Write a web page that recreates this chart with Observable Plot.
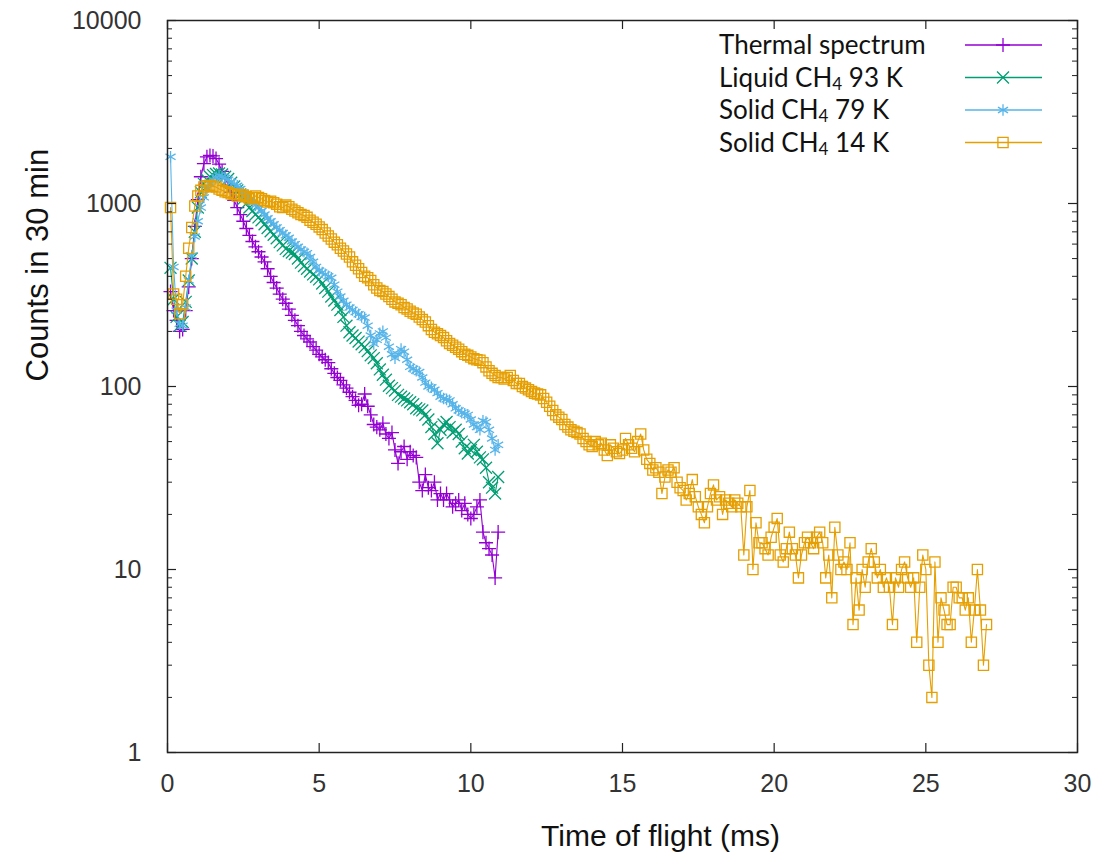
<!DOCTYPE html>
<html><head><meta charset="utf-8">
<script src="https://cdn.jsdelivr.net/npm/d3@7"></script>
<script src="https://cdn.jsdelivr.net/npm/@observablehq/plot@0.6"></script>
<style>
body{margin:0;background:#fff;}
#chart{width:1120px;height:863px;}
</style></head><body><div id="chart"></div>
<script>
// Time of flight bins (ms)
const tof = [
0.1,0.2,0.3,0.4,0.5,0.6,0.7,0.8,0.9,1.0,
1.1,1.2,1.3,1.4,1.5,1.6,1.7,1.8,1.9,2.0,
2.1,2.2,2.3,2.4,2.5,2.6,2.7,2.8,2.9,3.0,
3.1,3.2,3.3,3.4,3.5,3.6,3.7,3.8,3.9,4.0,
4.1,4.2,4.3,4.4,4.5,4.6,4.7,4.8,4.9,5.0,
5.1,5.2,5.3,5.4,5.5,5.6,5.7,5.8,5.9,6.0,
6.1,6.2,6.3,6.4,6.5,6.6,6.7,6.8,6.9,7.0,
7.1,7.2,7.3,7.4,7.5,7.6,7.7,7.8,7.9,8.0,
8.1,8.2,8.3,8.4,8.5,8.6,8.7,8.8,8.9,9.0,
9.1,9.2,9.3,9.4,9.5,9.6,9.7,9.8,9.9,10.0,
10.1,10.2,10.3,10.4,10.5,10.6,10.7,10.8,10.9,11.0,
11.1,11.2,11.3,11.4,11.5,11.6,11.7,11.8,11.9,12.0,
12.1,12.2,12.3,12.4,12.5,12.6,12.7,12.8,12.9,13.0,
13.1,13.2,13.3,13.4,13.5,13.6,13.7,13.8,13.9,14.0,
14.1,14.2,14.3,14.4,14.5,14.6,14.7,14.8,14.9,15.0,
15.1,15.2,15.3,15.4,15.5,15.6,15.7,15.8,15.9,16.0,
16.1,16.2,16.3,16.4,16.5,16.6,16.7,16.8,16.9,17.0,
17.1,17.2,17.3,17.4,17.5,17.6,17.7,17.8,17.9,18.0,
18.1,18.2,18.3,18.4,18.5,18.6,18.7,18.8,18.9,19.0,
19.1,19.2,19.3,19.4,19.5,19.6,19.7,19.8,19.9,20.0,
20.1,20.2,20.3,20.4,20.5,20.6,20.7,20.8,20.9,21.0,
21.1,21.2,21.3,21.4,21.5,21.6,21.7,21.8,21.9,22.0,
22.1,22.2,22.3,22.4,22.5,22.6,22.7,22.8,22.9,23.0,
23.1,23.2,23.3,23.4,23.5,23.6,23.7,23.8,23.9,24.0,
24.1,24.2,24.3,24.4,24.5,24.6,24.7,24.8,24.9,25.0,
25.1,25.2,25.3,25.4,25.5,25.6,25.7,25.8,25.9,26.0,
26.1,26.2,26.3,26.4,26.5,26.6,26.7,26.8,26.9,27.0
];

// Counts in 30 min
const thermal = [
330,260,230,200,205,260,350,500,750,1050,
1400,1650,1800,1830,1820,1760,1640,1500,1380,1260,
1150,1040,950,870,800,730,670,620,580,545,
510,480,440,400,370,345,320,300,285,265,
245,230,215,200,190,182,175,165,158,150,
145,140,135,125,118,112,108,102,98,93,
88,84,79,80,91,78,70,62,60,58,
63,55,52,56,45,38,44,47,40,44,
42,41,30,27,33,28,27,30,24,26,
24,26,24,22,23,24,21,23,20,19,
20,22,24,16,14,13,12,9,16
];
const liquid93 = [
445,300,240,215,225,290,380,500,700,950,
1150,1280,1350,1400,1430,1450,1460,1440,1400,1360,
1300,1240,1180,1120,1060,1000,950,910,870,840,
810,770,735,705,675,645,615,590,565,550,
540,530,500,475,455,440,425,410,398,385,
365,345,330,310,295,280,262,240,215,198,
190,184,176,170,164,156,148,143,134,124,
116,109,101,98,95,90,88,86,84,82,
80,76,75,74,70,66,60,55,49,58,
62,64,60,56,58,55,50,46,43,45,
48,44,41,40,36,30,28,26,32
];
const solid79 = [
1800,450,260,220,215,270,380,520,660,800,
950,1080,1200,1280,1350,1390,1420,1400,1380,1350,
1310,1280,1250,1200,1150,1100,1050,1010,980,950,
910,870,830,800,770,740,715,690,670,650,
620,600,580,560,545,535,510,480,450,430,
420,410,400,393,360,330,310,294,280,270,
262,255,248,240,238,215,190,171,180,195,
200,185,165,150,143,150,160,155,140,128,
125,122,120,112,105,100,99,96,92,88,
86,85,84,80,76,74,72,71,70,66,
62,60,58,65,64,58,52,45,48
];
const solid14 = [
950,320,300,250,280,400,570,740,970,1100,
1180,1230,1250,1260,1240,1230,1200,1180,1160,1150,
1130,1120,1100,1120,1110,1090,1060,1080,1100,1080,
1060,1040,1020,1030,1010,990,960,950,980,960,
930,910,890,870,860,840,810,790,770,745,
720,690,665,640,615,595,570,550,530,510,
480,460,440,420,400,393,380,360,345,335,
330,320,310,300,290,285,280,270,265,258,
252,248,240,232,225,215,205,198,194,190,
185,178,172,168,164,160,155,150,148,145,
142,140,139,135,128,122,118,115,112,112,
110,112,115,108,104,104,100,98,96,94,
92,91,90,86,82,78,74,70,68,66,
62,60,58,57,56,55,52,50,48,47,
50,48,49,45,42,48,46,44,43,45,
52,48,46,44,50,55,45,40,38,35,
36,34,26,32,35,34,36,30,28,27,
24,26,31,25,22,20,18,22,26,29,
24,25,20,24,23,22,24,23,22,12,
22,27,10,18,14,14,13,12,15,17,
19,12,11,13,16,13,12,9,12,14,
15,14,13,15,16,14,9,12,7,17,
12,10,11,10,14,5,9,6,10,8,
11,13,11,9,10,8,9,8,5,9,
8,10,11,9,8,9,4,8,12,10,
3,2,11,4,7,6,5,5,8,8,
7,7,6,7,4,6,10,6,3,5
];

const seriesNames = ["Thermal spectrum", "Liquid CH₄ 93 K", "Solid CH₄ 79 K", "Solid CH₄ 14 K"];
const seriesValues = [thermal, liquid93, solid79, solid14];
const seriesColors = ["#9400d3", "#009e73", "#56b4e9", "#e69f00"];
const seriesSymbols = ["plus", "times", "asterisk", "square2"];
const symbolR = [4.6, 5.5, 5.5, 6.5];
const d3Symbols = {plus: d3.symbolPlus, times: d3.symbolTimes, asterisk: d3.symbolAsterisk, square2: d3.symbolSquare2};

const xTicks = [0, 5, 10, 15, 20, 25, 30];
const yTicks = [1, 10, 100, 1000, 10000];
const yMinorTicks = [2,3,4,5,6,7,8,9, 20,30,40,50,60,70,80,90, 200,300,400,500,600,700,800,900, 2000,3000,4000,5000,6000,7000,8000,9000];

const W = 1120, H = 863;
const mL = 167, mR = 43, mT = 20, mB = 111;
const innerW = W - mL - mR, innerH = H - mT - mB;

const datasets = seriesValues.map((vals, k) => vals.map((v, i) => ({t: tof[i], count: v, series: seriesNames[k]})));

const marks = [];
datasets.forEach((rows, k) => {
  marks.push(Plot.line(rows, {x: "t", y: "count", stroke: seriesColors[k], strokeWidth: 1.1}));
  marks.push(Plot.dot(rows, {x: "t", y: "count", symbol: seriesSymbols[k], r: symbolR[k], stroke: seriesColors[k], fill: "none", strokeWidth: 1.3}));
});

const tickColor = "#222";
marks.push(
  Plot.frame({stroke: tickColor, strokeWidth: 1.5}),
  Plot.tickX(xTicks, {x: d => d, insetTop: innerH - 9, stroke: tickColor, strokeWidth: 1.2}),
  Plot.tickX(xTicks, {x: d => d, insetBottom: innerH - 9, stroke: tickColor, strokeWidth: 1.2}),
  Plot.tickY(yTicks, {y: d => d, insetRight: innerW - 9, stroke: tickColor, strokeWidth: 1.2}),
  Plot.tickY(yTicks, {y: d => d, insetLeft: innerW - 9, stroke: tickColor, strokeWidth: 1.2}),
  Plot.tickY(yMinorTicks, {y: d => d, insetRight: innerW - 5, stroke: tickColor, strokeWidth: 1}),
  Plot.tickY(yMinorTicks, {y: d => d, insetLeft: innerW - 5, stroke: tickColor, strokeWidth: 1}),
  Plot.axisX({ticks: xTicks, tickSize: 0, tickPadding: 22, fontSize: 25, fill: "#333", label: null}),
  Plot.axisY({ticks: yTicks, tickSize: 0, tickPadding: 26, fontSize: 25, fill: "#333", tickFormat: d => String(d), label: null}),
  Plot.text(["Counts in 30 min"], {text: d => d, frameAnchor: "left", rotate: -90, dx: -129, dy: -5, fontSize: 31, fill: "#111"}),
  Plot.text(["Time of flight (ms)"], {text: d => d, frameAnchor: "bottom", dx: 38, dy: 93, fontSize: 30, fill: "#111"})
);

const chart = Plot.plot({
  width: W, height: H,
  marginLeft: mL, marginRight: mR, marginTop: mT, marginBottom: mB,
  style: {fontFamily: "'Liberation Sans', Arial, sans-serif", background: "#fff", overflow: "visible"},
  x: {domain: [0, 30]},
  y: {type: "log", domain: [1, 10000]},
  marks
});
document.getElementById("chart").appendChild(chart);

// Key inside the frame, top right
const frameRight = W - mR;
const rowCenters = [45, 77.5, 110, 142.5];
const key = d3.select(chart).append("g")
  .attr("font-family", "Lato, 'Open Sans', sans-serif").attr("font-size", 26)
  .attr("fill", "#111").attr("text-anchor", "start");
seriesNames.forEach((name, k) => {
  const cy = rowCenters[k];
  const txt = key.append("text").attr("x", frameRight - 358).attr("y", cy + 9).attr("text-anchor", "start");
  const parts = name.split("₄");
  if (parts.length === 2) {
    txt.append("tspan").text(parts[0]);
    txt.append("tspan").attr("dy", 3).attr("font-size", 17).text("4");
    txt.append("tspan").attr("dy", -3).text(parts[1]);
  } else {
    txt.text(name);
  }
  key.append("line").attr("x1", frameRight - 112).attr("x2", frameRight - 35).attr("y1", cy).attr("y2", cy)
    .attr("stroke", seriesColors[k]).attr("stroke-width", 1.5);
  key.append("path").attr("transform", `translate(${frameRight - 74},${cy})`)
    .attr("d", d3.symbol(d3Symbols[seriesSymbols[k]], Math.PI * symbolR[k] * symbolR[k])())
    .attr("fill", "none").attr("stroke", seriesColors[k]).attr("stroke-width", 1.3);
});
</script></body></html>
